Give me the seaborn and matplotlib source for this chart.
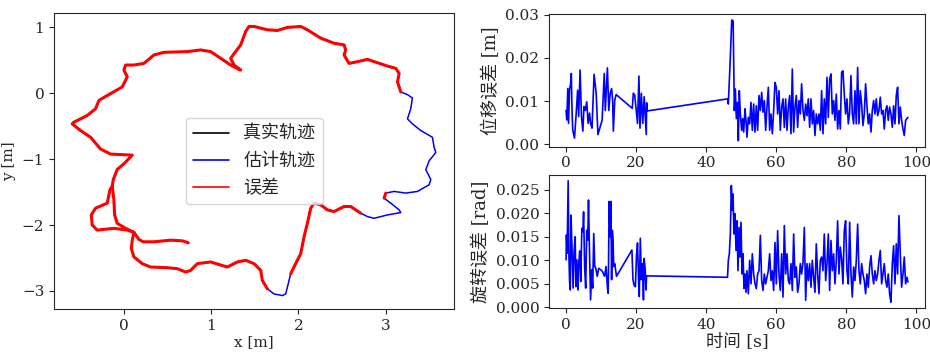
import numpy as np
import pandas as pd
import matplotlib
matplotlib.use("Agg")
import matplotlib.pyplot as plt
from matplotlib.lines import Line2D
import seaborn as sns

# ---------------- data ----------------
# estimated trajectory waypoints [m] and ground-truth availability flag
traj_x = [0.740, 0.672, 0.538, 0.347, 0.225, 0.176, 0.118, 0.023, -0.073, -0.103,
          -0.111, -0.130, -0.118, -0.073, 0.015, 0.099, -0.149, -0.263, -0.378, -0.492,
          -0.588, -0.569, -0.416, -0.321, -0.282, -0.149, -0.015, 0.042, 0.004, 0.023,
          0.118, 0.233, 0.347, 0.462, 0.729, 0.882, 0.996, 1.111, 1.225, 1.340,
          1.263, 1.225, 1.282, 1.340, 1.397, 1.435, 1.492, 1.645, 1.760, 1.874,
          2.027, 2.103, 2.256, 2.408, 2.523, 2.542, 2.523, 2.580, 2.676, 2.790,
          2.905, 3.019, 3.115, 3.153, 3.134, 3.172, 3.248, 3.305, 3.286, 3.248,
          3.305, 3.401, 3.534, 3.553, 3.573, 3.496, 3.458, 3.515, 3.496, 3.363,
          3.229, 3.095, 3.000, 2.981, 3.057, 3.153, 3.172, 3.019, 2.866, 2.790,
          2.714, 2.599, 2.523, 2.408, 2.332, 2.256, 2.179, 2.141, 2.103, 2.065,
          2.027, 1.969, 1.912, 1.874, 1.855, 1.817, 1.721, 1.645, 1.588, 1.569,
          1.492, 1.397, 1.302, 1.187, 0.996, 0.844, 0.767, 0.710, 0.615, 0.500,
          0.309, 0.214, 0.118, 0.088, 0.099, 0.118, 0.042, -0.111, -0.302, -0.359,
          -0.370, -0.321, -0.187, -0.156, -0.130]
traj_y = [-2.270, -2.240, -2.230, -2.255, -2.255, -2.219, -2.112, -2.051, -1.974, -1.847,
          -1.617, -1.413, -1.311, -1.158, -1.056, -0.939, -0.923, -0.847, -0.668, -0.566,
          -0.464, -0.439, -0.337, -0.235, -0.107, -0.005, 0.097, 0.250, 0.352, 0.429,
          0.429, 0.454, 0.582, 0.622, 0.633, 0.658, 0.633, 0.531, 0.429, 0.352,
          0.429, 0.531, 0.633, 0.735, 0.939, 1.015, 1.015, 0.964, 0.954, 1.000,
          1.015, 0.964, 0.837, 0.760, 0.735, 0.658, 0.582, 0.454, 0.480, 0.515,
          0.464, 0.413, 0.378, 0.301, 0.173, 0.020, -0.020, -0.071, -0.235, -0.388,
          -0.464, -0.566, -0.668, -0.821, -0.898, -1.026, -1.158, -1.311, -1.388, -1.490,
          -1.515, -1.490, -1.515, -1.592, -1.668, -1.770, -1.811, -1.847, -1.898, -1.872,
          -1.821, -1.719, -1.719, -1.796, -1.770, -1.694, -1.668, -1.745, -1.974, -2.179,
          -2.434, -2.587, -2.740, -2.944, -3.046, -3.071, -3.046, -2.969, -2.842, -2.689,
          -2.587, -2.536, -2.561, -2.638, -2.561, -2.587, -2.689, -2.714, -2.663, -2.648,
          -2.638, -2.587, -2.485, -2.357, -2.230, -2.112, -2.077, -2.051, -2.077, -2.000,
          -1.847, -1.745, -1.668, -1.464, -1.413]
traj_gt = [1] * 66 + [0] * 16 + [1, 1] + [0] * 6 + [1] * 13 + [0] * 4 + [1] * 28

# translation error [1e-3 m] and rotation error [1e-3 rad] over time [s]
trans_t_a = [0.0, 0.2, 0.5, 0.7, 1.0, 1.3, 1.5, 1.7, 1.9, 2.4, 2.9, 3.3, 3.6, 4.0, 4.4,
             4.8, 5.1, 5.5, 5.9, 6.3, 6.7, 7.0, 7.4, 8.0, 8.6, 9.1, 10.3, 10.9, 11.2, 11.8,
             12.2, 12.6, 13.0, 13.3, 13.5, 13.9, 14.3, 18.9, 19.2, 19.6, 20.0, 20.4, 20.8,
             21.1, 21.5, 21.9, 22.3, 22.9, 23.0, 23.2,
             46.1, 46.33, 46.9, 47.3, 47.7, 47.9, 48.05, 48.33, 48.62, 49.0, 49.19, 49.47,
             49.76, 50.14, 50.42, 50.71, 51.09, 51.37, 51.66]
trans_v_a = [7.8, 5.6, 12.9, 4.8, 12.7, 14.0, 16.4, 7.8, 3.3, 1.4, 7.2, 12.5, 6.4, 17.2, 6.4,
             3.0, 8.7, 7.8, 9.8, 4.8, 7.2, 4.8, 3.7, 16.2, 11.8, 2.2, 5.6, 16.4, 7.8, 17.7,
             7.8, 11.8, 12.9, 10.2, 3.0, 10.2, 11.5, 8.3, 11.8, 11.4, 8.0, 4.8, 15.8,
             3.7, 11.8, 4.8, 11.0, 2.2, 9.6, 7.7,
             10.5, 9.3, 20.1, 28.8, 28.6, 17.0, 7.8, 12.8, 5.9, 9.7, 0.8, 12.4,
             7.0, 3.2, 5.9, 2.8, 8.2, 5.5, 1.6]
rot_t_a = [0.0, 0.1, 0.3, 0.6, 0.8, 1.0, 1.2, 1.4, 1.7, 2.0, 2.3, 2.6, 2.8, 3.1, 3.4,
           3.6, 3.9, 4.2, 4.5, 4.8, 5.0, 5.3, 5.6, 5.9, 6.2, 6.4, 6.7, 7.0, 7.3, 7.6,
           7.9, 8.2, 8.5, 8.9, 9.3, 9.9, 10.4, 11.0, 11.4, 11.8, 12.0, 12.1, 12.3, 12.6, 12.8,
           13.0, 13.2, 13.4, 13.6, 13.9, 14.4, 18.8, 19.1, 19.4, 19.8, 20.1, 20.4, 20.7, 20.9,
           21.2, 21.5, 21.8, 22.1, 22.3, 22.6, 22.8, 23.0,
           46.1, 46.33, 46.62, 46.90, 47.19, 47.47, 47.66, 47.95, 48.23, 48.52, 48.81,
           49.09, 49.38, 49.66, 49.95, 50.23, 50.52, 50.80, 51.09, 51.37, 51.66]
rot_v_a = [10.1, 15.4, 11.5, 26.9, 11.5, 5.5, 3.7, 19.6, 12.7, 4.1, 12.0, 15.0, 4.4, 10.1, 3.7,
           9.0, 12.0, 5.5, 16.8, 16.1, 20.3, 8.7, 4.1, 16.4, 14.3, 22.8, 11.5, 1.6, 8.0, 4.1,
           15.7, 8.7, 8.3, 6.6, 8.3, 8.0, 7.6, 6.6, 8.7, 4.4, 3.0, 7.3, 22.5, 15.0, 22.5,
           5.9, 16.4, 14.7, 8.7, 9.3, 6.6, 12.2, 5.9, 4.8, 4.4, 10.9, 13.7, 5.9, 2.3,
           14.7, 5.9, 9.3, 1.6, 10.4, 8.0, 3.7, 6.7,
           6.4, 10.0, 11.4, 15.6, 25.9, 20.6, 24.1, 15.6, 19.9, 12.1, 18.4,
           7.8, 17.0, 10.7, 18.1, 7.1, 11.4, 4.0, 7.1, 3.2, 7.8]

t_b = [52.04, 52.42, 52.80, 53.18, 53.56, 53.94, 54.32, 54.70, 55.09, 55.47,
       55.85, 56.23, 56.61, 56.99, 57.37, 57.75, 58.13, 58.51, 58.89, 59.27,
       59.65, 60.03, 60.41, 60.79, 61.17, 61.56, 61.94, 62.32, 62.70, 63.08,
       63.46, 63.84, 64.22, 64.60, 64.98, 65.36, 65.74, 66.12, 66.50, 66.88,
       67.26, 67.65, 68.03, 68.41, 68.79, 69.17, 69.55, 69.93, 70.31, 70.69,
       71.07, 71.45, 71.83, 72.21, 72.59, 72.97, 73.35, 73.73, 74.12, 74.50,
       74.88, 75.26, 75.64, 76.02, 76.40, 76.78, 77.16, 77.54, 77.92, 78.30,
       78.68, 79.06, 79.44, 79.82, 80.20, 80.59, 80.97, 81.35, 81.73, 82.11,
       82.49, 82.87, 83.25, 83.63, 84.01, 84.39, 84.77, 85.15, 85.53, 85.91,
       86.29, 86.68, 87.06, 87.44, 87.82, 88.20, 88.58, 88.96, 89.34, 89.72,
       90.10, 90.48, 90.86, 91.24, 91.62, 92.00, 92.38, 92.76, 93.15, 93.53,
       93.91, 94.29, 94.67, 95.05, 95.43, 95.81, 96.19, 96.57, 96.95, 97.33,
       97.60]
trans_v_b = [6.2, 4.7, 9.7, 3.2, 9.3, 2.8, 8.9, 3.2, 11.3, 7.8,
             12.0, 7.4, 10.1, 3.2, 8.6, 13.2, 3.2, 7.0, 2.4, 7.8,
             14.3, 13.2, 7.0, 12.4, 3.2, 8.6, 10.5, 3.9, 10.5, 3.2,
             8.6, 11.3, 2.4, 17.4, 2.8, 8.6, 11.3, 3.9, 10.1, 7.0,
             14.0, 7.8, 5.5, 9.3, 6.6, 10.5, 3.9, 10.5, 4.7, 7.8,
             2.0, 7.0, 4.7, 7.0, 3.2, 12.4, 2.4, 10.5, 4.7, 15.5,
             6.2, 15.1, 16.3, 7.0, 10.1, 5.5, 11.6, 3.5, 7.8, 3.5,
             16.7, 17.0, 11.6, 7.0, 10.5, 4.7, 7.4, 15.9, 7.0, 4.7,
             12.4, 4.7, 17.8, 4.7, 12.4, 9.3, 4.3, 7.0, 14.0, 8.9,
             4.7, 7.0, 2.8, 7.8, 10.1, 7.0, 10.5, 6.6, 7.8, 10.9,
             7.0, 7.8, 3.5, 7.8, 8.9, 5.5, 8.6, 7.0, 3.9, 8.9,
             4.7, 11.3, 13.2, 4.7, 8.6, 5.5, 3.5, 2.0, 5.5, 5.9,
             6.2]
rot_v_b = [2.9, 10.0, 5.0, 11.4, 7.1, 5.0, 4.0, 7.1, 7.8, 15.3,
           5.7, 3.6, 7.1, 5.0, 6.4, 7.8, 11.4, 5.7, 7.8, 3.6,
           13.8, 5.0, 16.3, 7.1, 3.6, 11.4, 2.2, 17.4, 7.1, 11.4,
           5.7, 5.0, 9.3, 3.6, 15.6, 6.4, 8.6, 3.2, 5.0, 9.3,
           7.1, 9.6, 17.0, 1.5, 9.3, 5.7, 9.3, 4.3, 10.0, 6.4,
           3.2, 13.5, 7.1, 2.9, 10.0, 10.7, 7.8, 15.6, 5.7, 9.3,
           15.6, 3.6, 14.2, 7.8, 11.4, 5.0, 10.0, 18.4, 7.1, 12.8,
           10.3, 5.0, 16.3, 18.4, 7.8, 5.0, 18.1, 7.1, 2.2, 8.6,
           5.7, 10.0, 17.7, 7.8, 5.0, 9.3, 7.1, 5.7, 2.9, 7.1,
           4.3, 8.6, 11.0, 7.1, 5.0, 7.8, 5.7, 7.1, 10.0, 12.1,
           5.0, 7.1, 9.3, 5.7, 4.3, 7.1, 2.9, 1.1, 9.3, 13.1,
           5.0, 13.5, 7.1, 19.5, 11.4, 4.3, 7.1, 10.7, 5.0, 6.4,
           5.4]

legend_labels = ["真实轨迹", "估计轨迹", "误差"]

# ---------------- style ----------------
sns.set_style("ticks")
plt.rcParams["font.family"] = ["DejaVu Serif", "Noto Sans CJK SC"]
plt.rcParams["axes.unicode_minus"] = True

fig = plt.figure(figsize=(9.3, 3.54), dpi=100)
ax0 = fig.add_axes([0.0581, 0.1271, 0.4301, 0.8362])
ax1 = fig.add_axes([0.5903, 0.5856, 0.4043, 0.3749])
ax2 = fig.add_axes([0.5903, 0.1291, 0.4043, 0.3774])

# ---------------- trajectory ----------------
traj = pd.DataFrame({"x": traj_x, "y": traj_y, "gt": traj_gt})
traj["run"] = (traj["gt"].diff().fillna(0) != 0).cumsum()
gt_df = traj[traj["gt"] == 1]

sns.lineplot(data=traj, x="x", y="y", sort=False, estimator=None,
             color="blue", lw=1.1, ax=ax0)
sns.lineplot(data=gt_df, x="x", y="y", units="run", sort=False, estimator=None,
             color="black", lw=1.1, ax=ax0)
sns.lineplot(data=gt_df, x="x", y="y", units="run", sort=False, estimator=None,
             color="red", lw=2.2, ax=ax0)

handles = [Line2D([], [], color="black", lw=1.2),
           Line2D([], [], color="blue", lw=1.2),
           Line2D([], [], color="red", lw=1.2)]
ax0.legend(handles, legend_labels, loc="center", fontsize=13, frameon=True)
ax0.set_xlabel("x [m]", fontsize=11, labelpad=2)
ax0.set_ylabel("y [m]", fontsize=11)
ax0.set_xticks([0, 1, 2, 3])
ax0.set_yticks([-3, -2, -1, 0, 1])
ax0.tick_params(labelsize=11)

# ---------------- error series ----------------
trans_t = trans_t_a + t_b
trans_v = np.array(trans_v_a + trans_v_b) / 1000.0
rot_t = rot_t_a + t_b
rot_v = np.array(rot_v_a + rot_v_b) / 1000.0

sns.lineplot(x=trans_t, y=trans_v, sort=False, estimator=None,
             color="blue", lw=1.2, ax=ax1)
sns.lineplot(x=rot_t, y=rot_v, sort=False, estimator=None,
             color="blue", lw=1.2, ax=ax2)

for ax in (ax1, ax2):
    ax.set_xticks([0, 20, 40, 60, 80, 100])
    ax.tick_params(labelsize=11)

ax1.set_yticks([0.0, 0.01, 0.02, 0.03])
ax1.set_yticklabels(["0.00", "0.01", "0.02", "0.03"])
ax2.set_yticks([0.0, 0.005, 0.01, 0.015, 0.02, 0.025])
ax2.set_yticklabels(["0.000", "0.005", "0.010", "0.015", "0.020", "0.025"])
ax1.set_xlabel("")
ax1.set_ylabel("位移误差 [m]", fontsize=13)
ax2.set_ylabel("旋转误差 [rad]", fontsize=13)
ax2.set_xlabel("时间 [s]", fontsize=12.5, labelpad=1)

fig.savefig("out.png", dpi=100)
